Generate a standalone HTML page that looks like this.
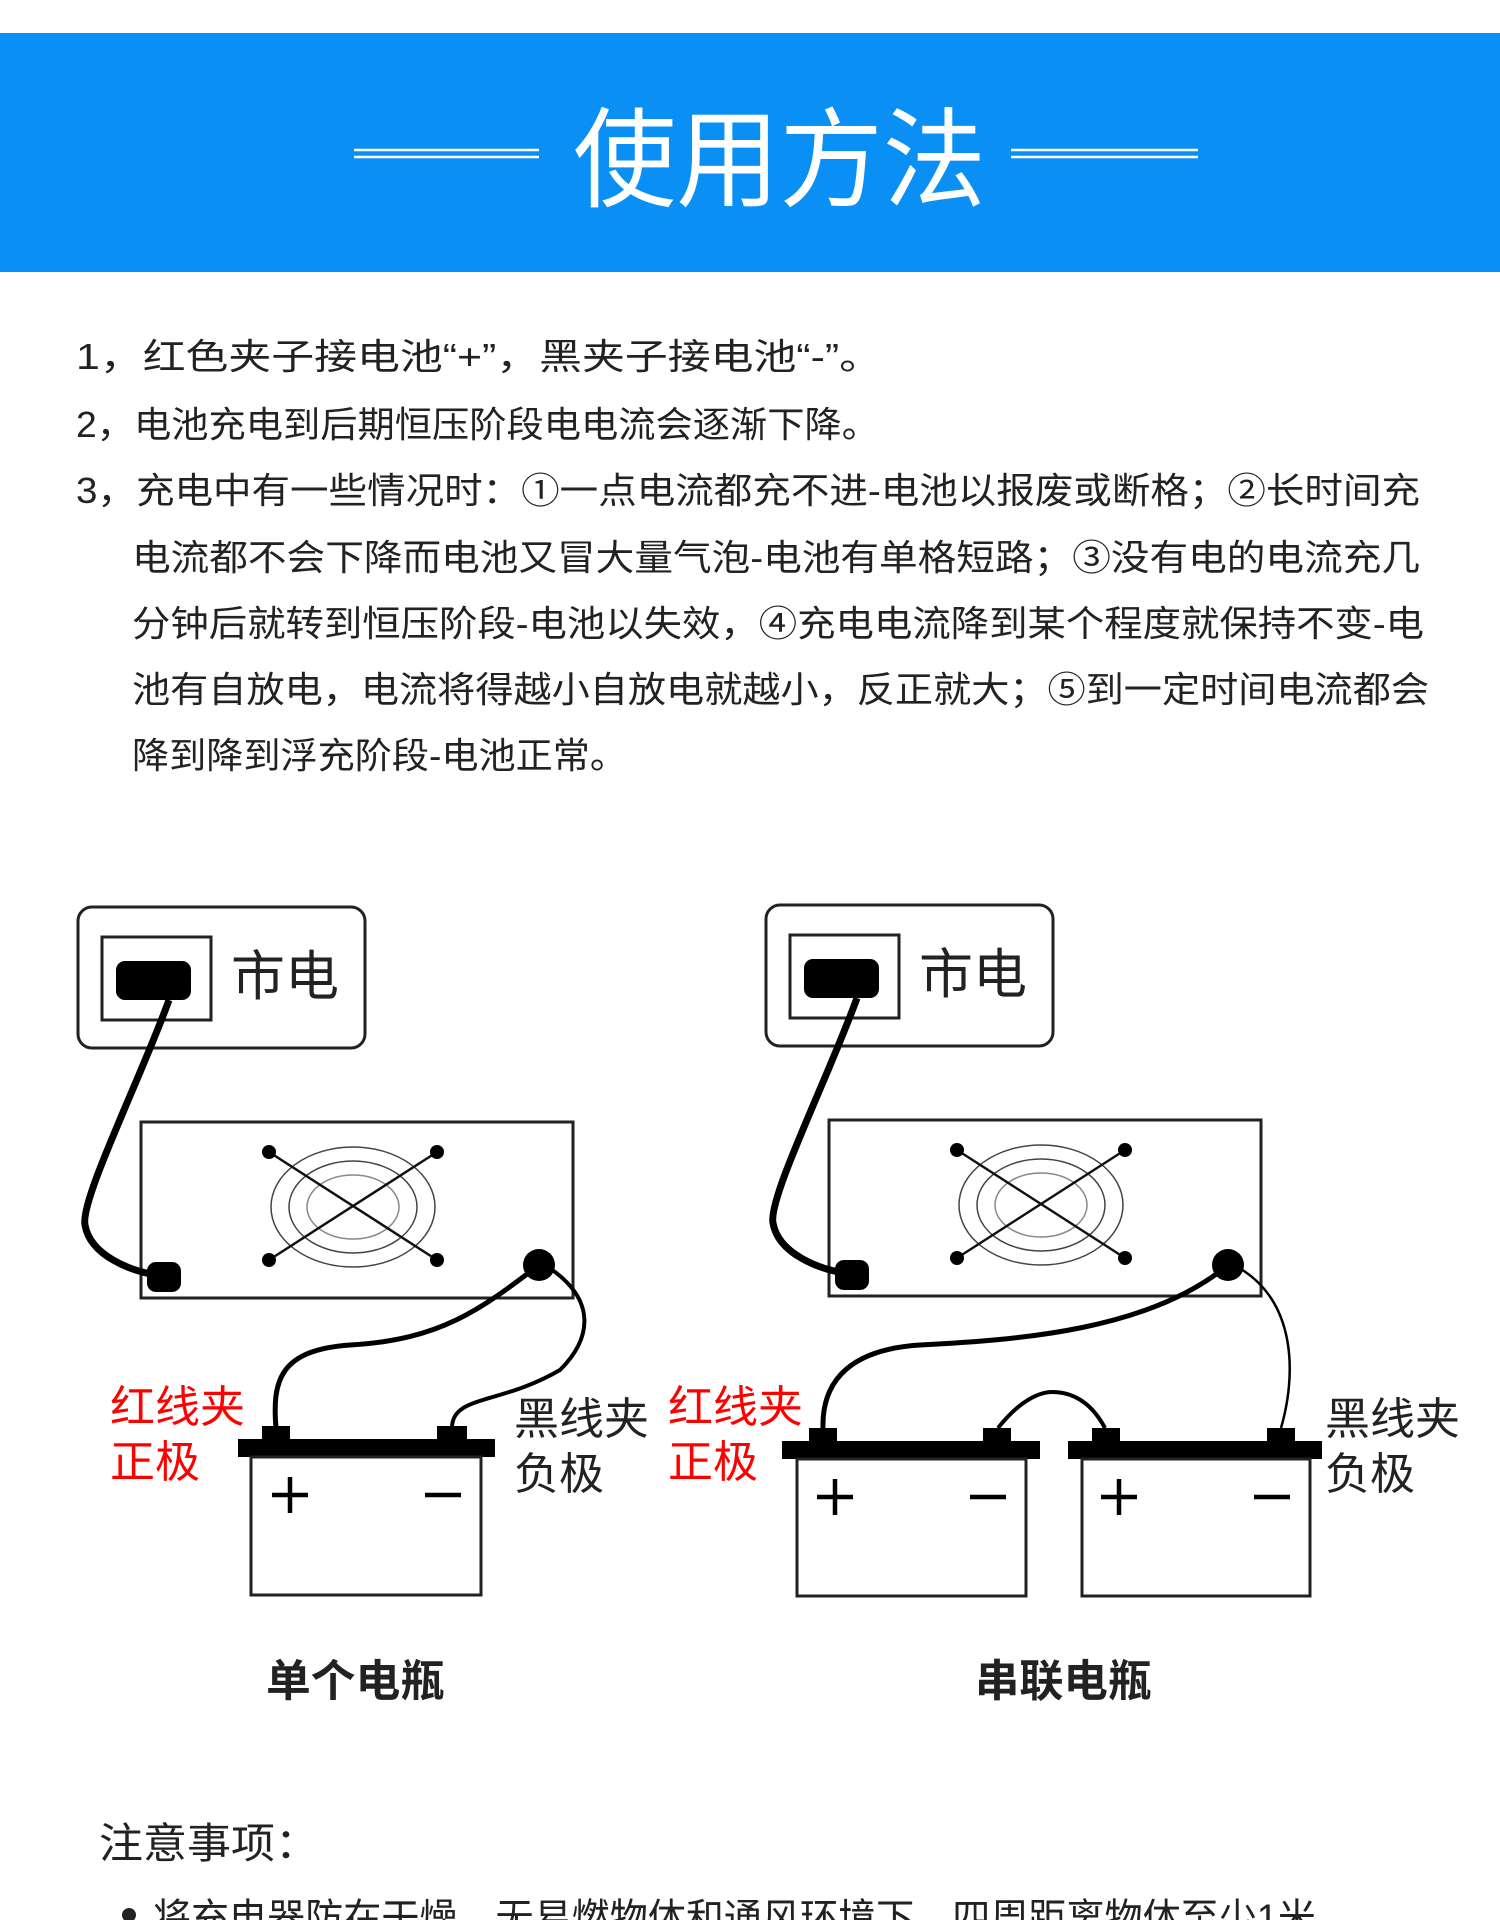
<!DOCTYPE html>
<html><head><meta charset="utf-8"><style>
html,body{margin:0;padding:0;background:#fff;width:1500px;height:1920px;overflow:hidden}
svg{display:block}
text{font-family:"Liberation Sans","Noto Sans CJK SC",sans-serif}
</style></head><body>
<svg width="1500" height="1920" viewBox="0 0 1500 1920" xmlns="http://www.w3.org/2000/svg">
<rect x="0" y="33" width="1500" height="239" fill="#0a90f5"/>
<g stroke="#fff" stroke-width="2.5">
<line x1="354" y1="150" x2="539" y2="150"/><line x1="354" y1="157" x2="539" y2="157"/>
<line x1="1011" y1="150" x2="1198" y2="150"/><line x1="1011" y1="157" x2="1198" y2="157"/>
</g>
<text x="573" y="198" font-size="108" fill="#fff" textLength="413" lengthAdjust="spacingAndGlyphs">使用方法</text>

<g font-size="36" fill="#222" lengthAdjust="spacingAndGlyphs">
<text x="76" y="369" textLength="806" lengthAdjust="spacingAndGlyphs">1，红色夹子接电池“+”，黑夹子接电池“-”。</text>
<text x="76" y="437" textLength="803" lengthAdjust="spacingAndGlyphs">2，电池充电到后期恒压阶段电电流会逐渐下降。</text>
<text x="76" y="503" textLength="1344" lengthAdjust="spacingAndGlyphs">3，充电中有一些情况时：①一点电流都充不进-电池以报废或断格；②长时间充</text>
<text x="132" y="570" textLength="1288" lengthAdjust="spacingAndGlyphs">电流都不会下降而电池又冒大量气泡-电池有单格短路；③没有电的电流充几</text>
<text x="132" y="636" textLength="1292" lengthAdjust="spacingAndGlyphs">分钟后就转到恒压阶段-电池以失效，④充电电流降到某个程度就保持不变-电</text>
<text x="132" y="702" textLength="1297" lengthAdjust="spacingAndGlyphs">池有自放电，电流将得越小自放电就越小，反正就大；⑤到一定时间电流都会</text>
<text x="132" y="768" textLength="495" lengthAdjust="spacingAndGlyphs">降到降到浮充阶段-电池正常。</text>
</g>

<!-- LEFT DIAGRAM -->
<g id="L">
<rect x="78" y="907" width="287" height="141" rx="14" fill="none" stroke="#222" stroke-width="3"/>
<rect x="102" y="937" width="109" height="83" fill="none" stroke="#222" stroke-width="3"/>
<rect x="116" y="961" width="75" height="39" rx="9" fill="#000"/>
<text x="231" y="995" font-size="54" fill="#222">市电</text>
<rect x="141" y="1122" width="432" height="176" fill="none" stroke="#222" stroke-width="3"/>
<g fill="none" stroke="#444" stroke-width="1.5">
<ellipse cx="353" cy="1207" rx="82" ry="60"/>
<ellipse cx="353" cy="1207" rx="64" ry="46"/>
<ellipse cx="353" cy="1207" rx="46" ry="32" stroke="#888"/>
</g>
<g stroke="#111" stroke-width="2.5"><line x1="269" y1="1152" x2="437" y2="1260"/><line x1="437" y1="1152" x2="269" y2="1260"/></g>
<g fill="#000"><circle cx="269" cy="1152" r="7"/><circle cx="437" cy="1152" r="7"/><circle cx="269" cy="1260" r="7"/><circle cx="437" cy="1260" r="7"/></g>
<path d="M169 1000 C140 1080 80 1200 85 1225 C90 1255 130 1272 163 1276" fill="none" stroke="#000" stroke-width="7"/>
<rect x="147" y="1262" width="34" height="30" rx="9" fill="#000"/>
<circle cx="539" cy="1265" r="16" fill="#000"/>
<path d="M539 1265 C480 1310 440 1340 350 1345 C280 1350 272 1380 276 1428" fill="none" stroke="#000" stroke-width="5"/>
<path d="M545 1265 C600 1300 590 1340 560 1370 C500 1405 452 1395 452 1428" fill="none" stroke="#000" stroke-width="4"/>
<rect x="238" y="1439" width="257" height="18" fill="#000"/>
<rect x="262" y="1426" width="28" height="15" fill="#000"/>
<rect x="437" y="1426" width="30" height="15" fill="#000"/>
<rect x="251" y="1457" width="230" height="138" fill="none" stroke="#222" stroke-width="3"/>
<g stroke="#000" stroke-width="4.5"><line x1="272" y1="1495" x2="308" y2="1495"/><line x1="290" y1="1477" x2="290" y2="1513"/><line x1="425" y1="1495" x2="461" y2="1495"/></g>
</g>
<g font-size="44">
<text x="110" y="1422" fill="#f00" textLength="135" lengthAdjust="spacingAndGlyphs">红线夹</text>
<text x="110" y="1477" fill="#f00" textLength="90" lengthAdjust="spacingAndGlyphs">正极</text>
<text x="514" y="1434" fill="#222" textLength="135" lengthAdjust="spacingAndGlyphs">黑线夹</text>
<text x="514" y="1489" fill="#222" textLength="90" lengthAdjust="spacingAndGlyphs">负极</text>
<text x="266" y="1696" fill="#222" font-weight="bold" textLength="179" lengthAdjust="spacingAndGlyphs">单个电瓶</text>
</g>

<!-- RIGHT DIAGRAM -->
<g transform="translate(688,-2)">
<rect x="78" y="907" width="287" height="141" rx="14" fill="none" stroke="#222" stroke-width="3"/>
<rect x="102" y="937" width="109" height="83" fill="none" stroke="#222" stroke-width="3"/>
<rect x="116" y="961" width="75" height="39" rx="9" fill="#000"/>
<text x="231" y="995" font-size="54" fill="#222">市电</text>
<rect x="141" y="1122" width="432" height="176" fill="none" stroke="#222" stroke-width="3"/>
<g fill="none" stroke="#444" stroke-width="1.5">
<ellipse cx="353" cy="1207" rx="82" ry="60"/>
<ellipse cx="353" cy="1207" rx="64" ry="46"/>
<ellipse cx="353" cy="1207" rx="46" ry="32" stroke="#888"/>
</g>
<g stroke="#111" stroke-width="2.5"><line x1="269" y1="1152" x2="437" y2="1260"/><line x1="437" y1="1152" x2="269" y2="1260"/></g>
<g fill="#000"><circle cx="269" cy="1152" r="7"/><circle cx="437" cy="1152" r="7"/><circle cx="269" cy="1260" r="7"/><circle cx="437" cy="1260" r="7"/></g>
<path d="M169 1000 C140 1080 80 1200 85 1225 C90 1255 130 1272 163 1276" fill="none" stroke="#000" stroke-width="7"/>
<rect x="147" y="1262" width="34" height="30" rx="9" fill="#000"/>
<circle cx="540" cy="1267" r="16" fill="#000"/>
</g>
<path d="M1228 1265 C1150 1330 1020 1340 920 1345 C840 1350 822 1390 823 1428" fill="none" stroke="#000" stroke-width="5"/>
<path d="M1234 1265 C1300 1300 1295 1380 1281 1428" fill="none" stroke="#000" stroke-width="2.5"/>
<path d="M998 1428 C1020 1400 1040 1392 1052 1392 C1070 1392 1090 1400 1105 1428" fill="none" stroke="#000" stroke-width="4"/>
<rect x="782" y="1441" width="258" height="18" fill="#000"/>
<rect x="809" y="1428" width="28" height="15" fill="#000"/>
<rect x="983" y="1428" width="28" height="15" fill="#000"/>
<rect x="797" y="1459" width="229" height="137" fill="none" stroke="#222" stroke-width="3"/>
<rect x="1068" y="1441" width="254" height="18" fill="#000"/>
<rect x="1092" y="1428" width="28" height="15" fill="#000"/>
<rect x="1267" y="1428" width="28" height="15" fill="#000"/>
<rect x="1082" y="1459" width="228" height="137" fill="none" stroke="#222" stroke-width="3"/>
<g stroke="#000" stroke-width="4.5">
<line x1="817" y1="1497" x2="853" y2="1497"/><line x1="835" y1="1479" x2="835" y2="1515"/><line x1="970" y1="1497" x2="1006" y2="1497"/>
<line x1="1101" y1="1497" x2="1137" y2="1497"/><line x1="1119" y1="1479" x2="1119" y2="1515"/><line x1="1254" y1="1497" x2="1290" y2="1497"/>
</g>
<g font-size="44">
<text x="668" y="1422" fill="#f00" textLength="135" lengthAdjust="spacingAndGlyphs">红线夹</text>
<text x="668" y="1477" fill="#f00" textLength="90" lengthAdjust="spacingAndGlyphs">正极</text>
<text x="1325" y="1434" fill="#222" textLength="135" lengthAdjust="spacingAndGlyphs">黑线夹</text>
<text x="1325" y="1489" fill="#222" textLength="90" lengthAdjust="spacingAndGlyphs">负极</text>
<text x="975" y="1696" fill="#222" font-weight="bold" textLength="177" lengthAdjust="spacingAndGlyphs">串联电瓶</text>
</g>

<text x="99" y="1858" font-size="42" fill="#222" textLength="220" lengthAdjust="spacingAndGlyphs">注意事项：</text>
<circle cx="129" cy="1915" r="7" fill="#222"/>
<text x="153" y="1932" font-size="40" fill="#222" textLength="1163" lengthAdjust="spacingAndGlyphs">将充电器防在干燥，无易燃物体和通风环境下，四周距离物体至少1米</text>
</svg>
</body></html>
